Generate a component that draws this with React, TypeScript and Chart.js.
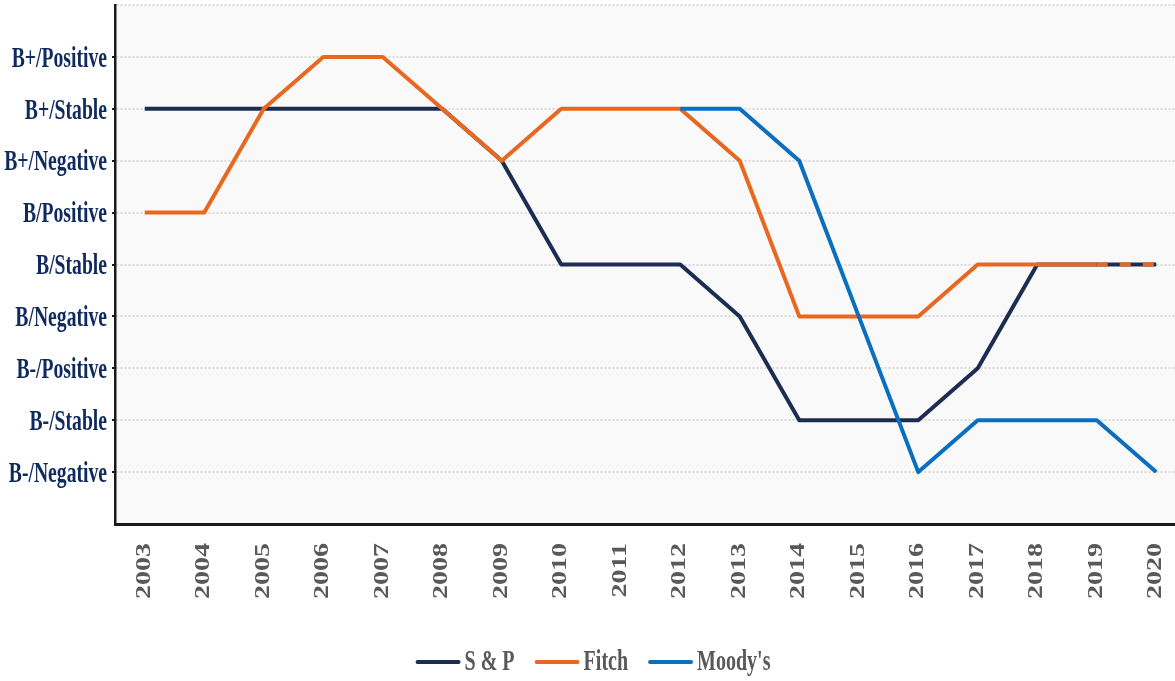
import React, { useEffect, useRef } from "react";
import { Chart, registerables } from "chart.js";

Chart.register(...registerables);

const years = ["2003","2004","2005","2006","2007","2008","2009","2010","2011","2012","2013","2014","2015","2016","2017","2018","2019","2020"];
const ratingLabels = ["", "B-/Negative", "B-/Stable", "B-/Positive", "B/Negative", "B/Stable", "B/Positive", "B+/Negative", "B+/Stable", "B+/Positive", ""];
const spValues = [8, 8, 8, 8, 8, 8, 7, 5, 5, 5, 4, 2, 2, 2, 3, 5, 5, 5];
const fitchValues = [6, 6, 8, 9, 9, 8, 7, 8, 8, 8, 7, 4, 4, 4, 5, 5, 5, 5];
const moodysValues = [null, null, null, null, null, null, null, null, null, 8, 8, 7, 4, 1, 2, 2, 2, 1];
const seriesNames = ["S & P", "Fitch", "Moody's"];
const seriesColors = ["#1d2d52", "#e8681f", "#0b6fbf"];

const FONT = "'Liberation Serif', 'Times New Roman', serif";

function squishText(ctx: CanvasRenderingContext2D, text: string, x: number, y: number, opts: { align: CanvasTextAlign; size: number; color: string; sx: number; rotate?: boolean }) {
  ctx.save();
  ctx.translate(x, y);
  if (opts.rotate) {
    ctx.rotate(-Math.PI / 2);
    ctx.scale(1, opts.sx);
  } else {
    ctx.scale(opts.sx, 1);
  }
  ctx.font = `bold ${opts.size}px ${FONT}`;
  ctx.fillStyle = opts.color;
  ctx.textAlign = opts.align;
  ctx.textBaseline = "middle";
  ctx.fillText(text, 0, 0);
  ctx.restore();
}

const customText = {
  id: "customText",
  beforeDraw(chart: any) {
    const { ctx, chartArea } = chart;
    ctx.save();
    ctx.fillStyle = "#f9f9f9";
    ctx.fillRect(chartArea.left, chartArea.top, chartArea.right - chartArea.left, chartArea.bottom - chartArea.top);
    ctx.restore();
  },
  afterDraw(chart: any) {
    const { ctx, chartArea } = chart;
    const y = chart.scales.y;
    const x = chart.scales.x;
    y.ticks.forEach((t: any) => {
      const label = ratingLabels[t.value];
      if (!label) return;
      squishText(ctx, label, chartArea.left - 8, y.getPixelForValue(t.value) + 2, { align: "right", size: 30, color: "#0f2a5e", sx: 0.655 });
    });
    years.forEach((yr, i) => {
      squishText(ctx, yr, x.getPixelForValue(i), chartArea.bottom + 19, { align: "right", size: 28, color: "#595959", sx: 0.72, rotate: true });
    });
    // legend
    const sample = 45, gapText = 4, gapItem = 20, size = 29, sx = 0.69;
    ctx.save();
    ctx.font = `bold ${size}px ${FONT}`;
    const widths = seriesNames.map((n) => ctx.measureText(n).width * sx);
    ctx.restore();
    const total = widths.reduce((a, w) => a + sample + gapText + w, 0) + gapItem * (seriesNames.length - 1);
    let cx = chart.width / 2 - total / 2;
    const ly = 662;
    seriesNames.forEach((n, i) => {
      ctx.save();
      ctx.strokeStyle = seriesColors[i];
      ctx.lineWidth = 4;
      ctx.lineCap = "round";
      ctx.beginPath();
      ctx.moveTo(cx + 2, ly);
      ctx.lineTo(cx + sample - 2, ly);
      ctx.stroke();
      ctx.restore();
      cx += sample + gapText;
      squishText(ctx, n, cx, ly + 1, { align: "left", size, color: "#595959", sx });
      cx += widths[i] + gapItem;
    });
  },
};

export default function App() {
  const ref = useRef<HTMLCanvasElement>(null);
  useEffect(() => {
    if (!ref.current) return;
    const chart = new Chart(ref.current, {
      type: "line",
      data: {
        labels: years,
        datasets: [
          { label: seriesNames[0], data: spValues, borderColor: seriesColors[0], backgroundColor: seriesColors[0], borderWidth: 4, pointRadius: 0, order: 3, borderJoinStyle: "round" },
          {
            label: seriesNames[1], data: fitchValues, borderColor: seriesColors[1], backgroundColor: seriesColors[1], borderWidth: 4, pointRadius: 0, order: 2, borderJoinStyle: "round",
            segment: { borderDash: (c: any) => (c.p0DataIndex === 16 ? [11, 12] : undefined) },
          },
          { label: seriesNames[2], data: moodysValues, borderColor: seriesColors[2], backgroundColor: seriesColors[2], borderWidth: 4, pointRadius: 0, order: 1, borderJoinStyle: "round", spanGaps: false },
        ],
      },
      options: {
        animation: false,
        responsive: false,
        maintainAspectRatio: false,
        layout: { padding: { top: 5, left: 0, right: 0, bottom: 0 } },
        plugins: { legend: { display: false }, tooltip: { enabled: false } },
        scales: {
          x: {
            type: "category",
            offset: true,
            grid: { display: false },
            border: { display: true, color: "#1a1a1a", width: 3 },
            ticks: { display: false },
            afterFit: (s: any) => { s.height = 157; },
          },
          y: {
            min: 0,
            max: 10,
            ticks: { display: false, stepSize: 1 },
            grid: {
              color: (c: any) => (c.tick && c.tick.value === 0 ? "transparent" : "#dadada"),
              lineWidth: 2,
              tickLength: 3,
              tickWidth: 2,
              tickColor: (c: any) => (c.tick && c.tick.value >= 1 && c.tick.value <= 9 ? "#1a1a1a" : "transparent"),
              tickBorderDash: [],
            },
            border: { display: true, color: "#1a1a1a", width: 2.5, dash: [2, 2] },
            afterFit: (s: any) => { s.width = 115; },
          },
        },
      },
      plugins: [customText],
    });
    return () => chart.destroy();
  }, []);
  return (
    <div style={{ position: "fixed", left: 0, top: 0, width: 1186, height: 681, overflow: "hidden", background: "#ffffff" }}>
      <canvas ref={ref} width={1186} height={681} style={{ display: "block" }} />
    </div>
  );
}
